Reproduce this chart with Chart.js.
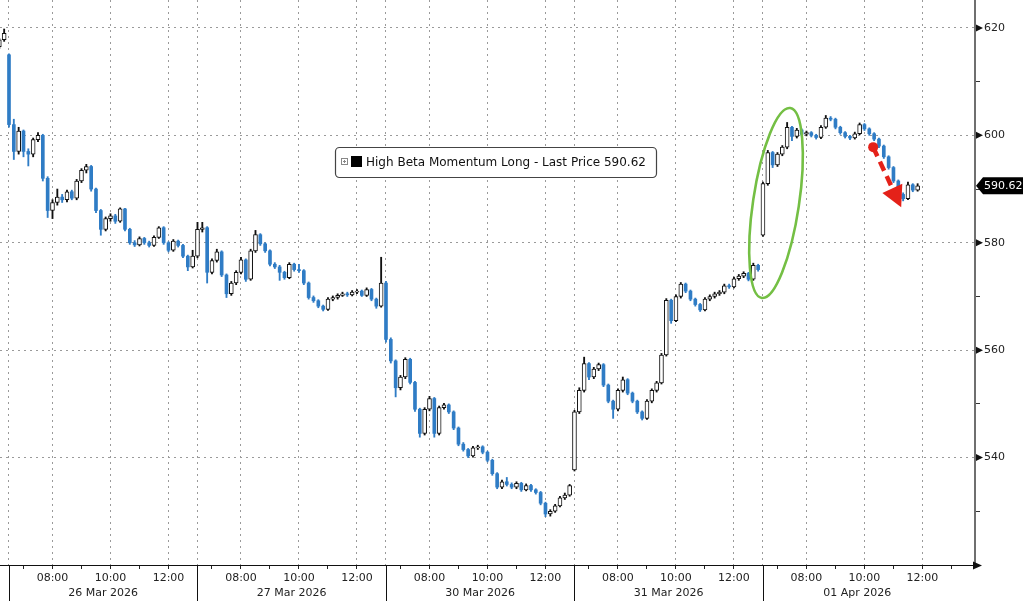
<!DOCTYPE html>
<html><head><meta charset="utf-8">
<script src="https://cdn.jsdelivr.net/npm/chart.js@4/dist/chart.umd.min.js"></script>
<style>html,body{margin:0;padding:0;background:#fff;overflow:hidden}canvas{display:block}</style>
</head><body>
<canvas id="c" width="1024" height="601"></canvas>
<script>
// ---------------- DATA ----------------
const seriesName = 'High Beta Momentum Long';
const dayLabels = ['26 Mar 2026', '27 Mar 2026', '30 Mar 2026', '31 Mar 2026', '01 Apr 2026'];
const timeTickLabels = ['07:00', '08:00', '09:00', '10:00', '11:00', '12:00', '13:00'];
const labelledTimes = ['08:00', '10:00', '12:00'];
const yTickValues = [530, 540, 550, 560, 570, 580, 590, 600, 610, 620];
const yLabelValues = [540, 560, 580, 600, 620];

// 10-minute bars: 2 bars of 25 Mar, then 26 Mar, 27 Mar, 30 Mar, 31 Mar (39 each), 01 Apr (33)
const opens = [
  616.5, 617.8,
  615.0,602.0,597.0,600.8,597.0,596.5,599.2,600.0,592.0,586.0,587.5,588.5,588.0,589.5,588.3,591.5,593.5,594.2,590.0,586.0,582.5,584.5,585.0,584.0,586.3,582.5,580.0,579.6,580.8,580.0,579.5,581.0,582.8,580.0,578.6,580.3,579.5,577.5,575.5,
  577.5,582.5,582.8,574.5,576.7,578.3,574.0,570.5,572.5,574.5,576.8,573.2,578.5,581.5,579.8,578.5,576.0,575.5,574.5,573.5,576.0,575.0,574.8,572.5,569.8,569.2,568.2,567.6,569.5,569.8,570.2,570.5,570.3,570.8,571.0,570.2,571.3,569.5,568.2,
  572.5,562.0,558.0,553.0,555.0,558.3,554.0,549.0,544.5,549.0,551.0,544.5,549.3,549.8,548.5,545.5,542.5,541.5,540.3,541.8,542.0,541.0,539.5,537.0,534.5,535.5,535.0,534.5,535.2,534.0,534.8,534.0,533.5,531.5,529.5,530.0,531.0,532.5,533.0,
  537.7,548.5,552.5,557.5,555.0,556.5,557.3,553.5,550.5,549.0,552.5,554.5,552.0,550.5,548.5,547.3,550.5,552.5,553.9,559.1,569.3,565.5,570.0,572.3,571.0,569.5,568.5,567.5,569.5,570.0,570.5,570.8,572.0,571.8,573.3,573.8,574.3,573.2,575.8,
  581.4,591.0,596.8,594.5,596.5,597.8,601.5,599.8,601.0,600.2,600.5,600.0,599.6,601.5,603.2,603.0,601.5,600.5,599.8,599.5,600.3,602.0,601.2,600.3,599.3,598.0,596.0,594.0,591.5,589.0,588.2,590.8,589.8
];
const closes = [
  617.8, 619.0,
  602.0,597.0,600.8,597.0,596.5,599.2,600.0,592.0,586.0,587.5,588.5,588.0,589.5,588.3,591.5,593.5,594.2,590.0,586.0,582.5,584.5,585.0,584.0,586.3,582.5,580.0,579.6,580.8,580.0,579.5,581.0,582.8,580.0,578.6,580.3,579.5,577.5,575.5,577.5,
  582.5,582.8,574.5,576.7,578.3,574.0,570.5,572.5,574.5,576.8,573.2,578.5,581.5,579.8,578.5,576.0,575.5,574.5,573.5,576.0,575.0,574.8,572.5,569.8,569.2,568.2,567.6,569.5,569.8,570.2,570.5,570.3,570.8,571.0,570.2,571.3,569.5,568.2,572.5,
  562.0,558.0,553.0,555.0,558.3,554.0,549.0,544.5,549.0,551.0,544.5,549.3,549.8,548.5,545.5,542.5,541.5,540.3,541.8,542.0,541.0,539.5,537.0,534.5,535.5,535.0,534.5,535.2,534.0,534.8,534.0,533.5,531.5,529.5,530.0,531.0,532.5,533.0,534.8,
  548.5,552.5,557.5,555.0,556.5,557.3,553.5,550.5,549.0,552.5,554.5,552.0,550.5,548.5,547.3,550.5,552.5,553.9,559.1,569.3,565.5,570.0,572.3,571.0,569.5,568.5,567.5,569.5,570.0,570.5,570.8,572.0,571.8,573.3,573.8,574.3,573.2,575.8,575.0,
  591.0,596.8,594.5,596.5,597.8,601.5,599.8,601.0,600.2,600.5,600.0,599.6,601.5,603.2,603.0,601.5,600.5,599.8,599.5,600.3,602.0,601.2,600.3,599.3,598.0,596.0,594.0,591.5,589.0,588.2,590.8,589.8,590.62
];
const highs = [
  618.0, 619.8,
  615.2,603.0,601.5,601.0,597.5,599.5,600.5,600.2,592.3,588.0,590.0,589.0,589.8,589.8,591.8,593.8,594.6,594.4,590.2,586.2,584.8,585.4,585.3,586.5,586.4,582.7,580.4,581.1,581.0,580.3,581.3,583.0,583.0,580.2,580.6,580.5,579.7,577.7,578.6,
  583.8,583.8,583.0,577.0,578.8,578.5,574.2,572.8,574.8,577.3,577.0,578.8,582.3,581.7,580.0,578.7,576.3,575.8,574.7,576.3,576.2,576.0,575.0,572.7,570.1,569.4,568.4,569.8,570.1,570.5,570.8,570.8,571.1,571.3,571.2,571.6,571.5,569.7,577.3,
  572.8,562.3,558.2,555.3,558.6,558.5,554.2,549.2,549.3,551.4,551.2,549.6,550.1,550.0,548.7,545.7,542.8,541.7,542.1,542.3,542.2,541.2,539.7,537.2,535.8,536.3,535.3,535.5,535.4,535.1,535.0,534.2,533.7,531.7,530.3,531.3,532.8,533.4,535.0,
  548.8,553.0,558.7,557.7,556.8,557.6,557.5,553.7,550.7,552.8,555.0,554.7,552.2,550.7,548.7,550.8,552.8,554.2,559.4,569.6,569.5,570.3,572.6,572.5,571.2,569.7,568.7,569.8,570.3,570.8,571.1,572.3,572.3,573.6,574.1,574.6,574.5,576.2,576.0,
  591.3,597.2,597.0,596.8,598.1,602.4,601.7,601.3,601.2,600.8,600.7,600.2,601.8,603.7,603.5,603.2,601.7,600.7,600.0,600.6,602.3,602.2,601.4,600.5,599.5,598.2,596.2,594.2,591.7,589.3,591.3,591.0,591.0
];
const lows = [
  616.2, 617.5,
  601.5,595.5,596.5,596.0,594.3,596.0,598.8,591.5,584.7,584.5,587.0,587.5,587.6,588.0,588.0,591.2,593.0,589.6,585.6,581.4,582.2,584.0,583.6,583.8,582.2,579.7,579.3,579.4,579.7,579.2,579.3,580.8,579.7,578.3,578.4,579.2,577.2,574.8,575.3,
  577.2,582.0,572.5,574.2,576.4,573.7,569.8,570.2,572.2,574.2,572.8,573.0,578.2,579.5,578.2,575.7,575.2,573.0,573.2,573.3,574.7,574.5,572.2,569.5,568.9,567.9,567.3,567.4,569.2,569.5,570.0,570.0,570.1,570.5,570.0,570.0,569.2,567.8,568.0,
  561.5,557.6,551.3,552.6,554.7,553.7,548.6,543.8,544.2,548.7,543.8,544.2,549.0,548.2,545.2,542.2,541.2,540.0,540.1,541.5,540.7,539.2,536.7,534.2,534.2,534.7,534.2,534.2,533.7,533.8,533.7,533.2,531.2,529.0,529.1,529.8,530.8,532.2,532.8,
  537.5,548.2,552.2,554.5,554.7,556.2,553.2,550.2,547.3,548.7,552.2,551.7,550.2,548.2,547.0,547.1,550.2,552.2,553.7,558.9,565.0,565.3,569.7,570.7,569.2,568.2,567.2,567.3,569.2,569.7,570.2,570.5,571.5,571.6,573.0,573.5,572.9,573.0,574.7,
  581.2,590.7,594.0,594.2,596.2,597.5,599.0,599.5,599.9,599.9,599.7,599.3,599.4,601.3,602.7,601.2,600.2,599.5,599.2,599.3,600.1,600.9,600.0,599.0,597.7,595.7,593.7,591.2,588.7,587.8,588.0,589.5,589.6
];

// ---------------- LAYOUT / STYLE ----------------
const PRIOR_BARS = 2, BARS_PER_DAY = 39, BARS_PER_HOUR = 6, SESSION_START = 6.5;
const X_MIN = 0.14, X_MAX = 201.87, Y_MIN = 520, Y_MAX = 625.2;
const FONT = 'DejaVu Sans';
const BLUE = '#2f7cc5';
const GRID = '#9a9a9a';
const TEXT = '#222';

// annotations (data units: bar index, price)
const ellipseNote = { x: 160.7, y: 587.4, rx: 23, ry: 96, rotDeg: 8.5 };
const arrowNote = { x1: 180.8, y1: 597.8, x2: 186.6, y2: 586.6 };

const bars = opens.map((o, i) => ({ i, o, c: closes[i], h: highs[i], l: lows[i] }));
const upBars = bars.filter(b => b.c >= b.o);
const downBars = bars.filter(b => b.c < b.o);
const lastPrice = closes[closes.length - 1];

const dayStart = d => PRIOR_BARS + d * BARS_PER_DAY;
const timePos = (d, label) => {
  const [hh, mm] = label.split(':').map(Number);
  return dayStart(d) + (hh + mm / 60 - SESSION_START) * BARS_PER_HOUR;
};

const xTickInfo = [];
dayLabels.forEach((_, d) => {
  xTickInfo.push({ value: dayStart(d), kind: 'day', text: '' });
  timeTickLabels.forEach(t => {
    const v = timePos(d, t);
    if (d < dayLabels.length - 1 && v >= dayStart(d + 1)) return;
    if (v > X_MAX) return;
    xTickInfo.push({ value: v, kind: labelledTimes.includes(t) ? 'major' : 'minor', text: labelledTimes.includes(t) ? t : '' });
  });
});
const xTickByValue = new Map(xTickInfo.map(t => [t.value, t]));
const dayCenters = dayLabels.map((lab, d) => ({ value: dayStart(d) + BARS_PER_DAY / 2, text: lab }));

const overlay = {
  id: 'overlay',
  afterDraw(chart) {
    const { ctx, chartArea: ca, scales: { x, y } } = chart;
    ctx.save();
    // day separators in label area
    ctx.strokeStyle = '#111'; ctx.lineWidth = 1;
    dayLabels.forEach((_, d) => {
      const px = Math.round(x.getPixelForValue(dayStart(d))) + 0.5;
      ctx.beginPath(); ctx.moveTo(px, ca.bottom); ctx.lineTo(px, chart.height); ctx.stroke();
    });
    // x axis arrow
    ctx.fillStyle = '#111';
    ctx.beginPath(); ctx.moveTo(ca.right - 2, ca.bottom - 3.5); ctx.lineTo(ca.right + 7, ca.bottom + 0.5); ctx.lineTo(ca.right - 2, ca.bottom + 4.5); ctx.closePath(); ctx.fill();
    // y major tick triangles
    yLabelValues.forEach(v => {
      const py = y.getPixelForValue(v);
      ctx.beginPath(); ctx.moveTo(ca.right + 1, py - 3.5); ctx.lineTo(ca.right + 8, py); ctx.lineTo(ca.right + 1, py + 3.5); ctx.closePath(); ctx.fill();
    });
    // last price tag
    const ly = y.getPixelForValue(lastPrice);
    ctx.fillStyle = '#000';
    ctx.beginPath();
    ctx.moveTo(ca.right + 1, ly); ctx.lineTo(ca.right + 8, ly - 8.5); ctx.lineTo(1023, ly - 8.5);
    ctx.lineTo(1023, ly + 8.5); ctx.lineTo(ca.right + 8, ly + 8.5); ctx.closePath(); ctx.fill();
    ctx.fillStyle = '#fff'; ctx.font = `11px "${FONT}"`; ctx.textBaseline = 'middle'; ctx.textAlign = 'left';
    ctx.fillText(lastPrice.toFixed(2), ca.right + 9, ly + 0.5);

    // green ellipse
    ctx.strokeStyle = '#74bf44'; ctx.lineWidth = 2.6;
    ctx.beginPath();
    ctx.ellipse(x.getPixelForValue(ellipseNote.x), y.getPixelForValue(ellipseNote.y), ellipseNote.rx, ellipseNote.ry, ellipseNote.rotDeg * Math.PI / 180, 0, Math.PI * 2);
    ctx.stroke();

    // red dashed arrow
    const ax1 = x.getPixelForValue(arrowNote.x1), ay1 = y.getPixelForValue(arrowNote.y1);
    const ax2 = x.getPixelForValue(arrowNote.x2), ay2 = y.getPixelForValue(arrowNote.y2);
    const len = Math.hypot(ax2 - ax1, ay2 - ay1), ux = (ax2 - ax1) / len, uy = (ay2 - ay1) / len;
    const headL = 21, headW = 11;
    const bx = ax2 - ux * headL, by = ay2 - uy * headL;
    ctx.strokeStyle = '#e42119'; ctx.fillStyle = '#e42119'; ctx.lineWidth = 4.5;
    ctx.setLineDash([10, 6]);
    ctx.beginPath(); ctx.moveTo(ax1, ay1); ctx.lineTo(bx + ux * 2, by + uy * 2); ctx.stroke();
    ctx.setLineDash([]);
    ctx.beginPath(); ctx.arc(ax1, ay1, 5, 0, Math.PI * 2); ctx.fill();
    ctx.beginPath(); ctx.moveTo(ax2, ay2); ctx.lineTo(bx - uy * headW, by + ux * headW); ctx.lineTo(bx + uy * headW, by - ux * headW); ctx.closePath(); ctx.fill();

    // legend box
    const lx = 335.5, lyTop = 147.5, lw = 321, lh = 30;
    ctx.fillStyle = '#fff'; ctx.strokeStyle = '#444'; ctx.lineWidth = 1.2;
    ctx.beginPath(); ctx.roundRect(lx, lyTop, lw, lh, 4); ctx.fill(); ctx.stroke();
    ctx.strokeStyle = '#888'; ctx.lineWidth = 1;
    ctx.strokeRect(341.5, 158.5, 6, 6);
    ctx.beginPath(); ctx.moveTo(343, 161.5); ctx.lineTo(346, 161.5); ctx.moveTo(344.5, 160); ctx.lineTo(344.5, 163); ctx.stroke();
    ctx.fillStyle = '#000'; ctx.fillRect(351, 156, 11, 11);
    ctx.fillStyle = '#111'; ctx.font = `12px "${FONT}"`; ctx.textBaseline = 'middle';
    ctx.fillText(`${seriesName} - Last Price ${lastPrice.toFixed(2)}`, 366, 162.5);
    ctx.restore();
  }
};

new Chart(document.getElementById('c'), {
  type: 'bar',
  data: {
    datasets: [
      { label: 'wicks', data: bars.map(b => ({ x: b.i, y: [b.l, b.h] })),
        backgroundColor: bars.map(b => b.c >= b.o ? '#111' : BLUE), borderWidth: 0,
        barThickness: 1.2, grouped: false, order: 3 },
      { label: 'down', data: downBars.map(b => ({ x: b.i, y: [b.o, b.c] })),
        backgroundColor: BLUE, borderColor: BLUE, borderWidth: 0,
        barThickness: 3, grouped: false, order: 2 },
      { label: 'up', data: upBars.map(b => ({ x: b.i, y: [b.o, b.c] })),
        backgroundColor: '#fff', borderColor: '#111', borderWidth: 1, borderSkipped: false,
        barThickness: 4, grouped: false, order: 1 }
    ]
  },
  options: {
    responsive: false, animation: false, devicePixelRatio: 1,
    layout: { padding: 0 },
    plugins: { legend: { display: false }, tooltip: { enabled: false } },
    scales: {
      x: {
        type: 'linear', position: 'bottom', weight: 0, min: X_MIN, max: X_MAX, offset: false,
        afterBuildTicks: s => { s.ticks = xTickInfo.map(t => ({ value: t.value })); },
        afterFit: s => { s.height = 18; s.paddingLeft = 0; s.paddingRight = 0; },
        ticks: { autoSkip: false, maxRotation: 0, padding: 3, color: TEXT, font: { family: FONT, size: 11 },
          callback: v => (xTickByValue.get(v) || {}).text || '' },
        grid: { offset: false, drawTicks: true, tickLength: 4, lineWidth: 1,
          color: c => { const t = c.tick && xTickByValue.get(c.tick.value); return t && t.kind !== 'minor' ? GRID : 'rgba(0,0,0,0)'; },
          tickColor: c => { const t = c.tick && xTickByValue.get(c.tick.value); return t && t.kind !== 'day' ? '#222' : 'rgba(0,0,0,0)'; } },
        border: { display: true, color: '#111', width: 1, dash: [2, 4] }
      },
      x2: {
        type: 'linear', position: 'bottom', weight: 1, min: X_MIN, max: X_MAX, offset: false,
        afterBuildTicks: s => { s.ticks = dayCenters.map(t => ({ value: t.value })); },
        afterFit: s => { s.height = 18; s.paddingLeft = 0; s.paddingRight = 0; },
        ticks: { autoSkip: false, maxRotation: 0, padding: 4, color: TEXT, font: { family: FONT, size: 11 },
          callback: (v, i) => dayCenters[i] ? dayCenters[i].text : '' },
        grid: { display: false, drawTicks: false, tickLength: 0, offset: false },
        border: { display: false }
      },
      y: {
        type: 'linear', position: 'right', min: Y_MIN, max: Y_MAX,
        afterBuildTicks: s => { s.ticks = yTickValues.map(v => ({ value: v })); },
        afterFit: s => { s.width = 49; s.paddingTop = 0; s.paddingBottom = 0; },
        ticks: { padding: 4, color: TEXT, font: { family: FONT, size: 11 },
          callback: v => yLabelValues.includes(v) ? String(v) : '' },
        grid: { drawTicks: true, tickLength: 5, lineWidth: 1,
          color: c => c.tick && yLabelValues.includes(c.tick.value) ? GRID : 'rgba(0,0,0,0)',
          tickColor: '#333' },
        border: { display: true, color: '#6f6f6f', width: 2, dash: [2, 4] }
      }
    }
  },
  plugins: [overlay]
});
</script>
</body></html>
